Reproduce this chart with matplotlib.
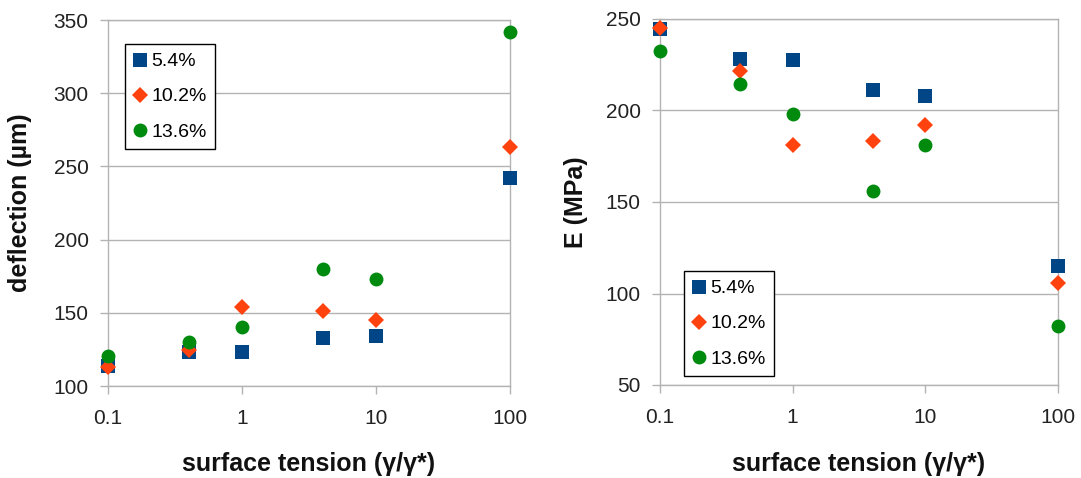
import matplotlib
matplotlib.use("Agg")
import matplotlib.pyplot as plt

plt.rcParams['font.family'] = ['Liberation Sans', 'DejaVu Sans']

# surface tension ratio (gamma / gamma*)
tension = [0.1, 0.4, 1, 4, 10, 100]
series_labels = ["5.4%", "10.2%", "13.6%"]

# deflection (um) per concentration
deflection_54 = [114, 123, 123, 133, 134, 242]
deflection_102 = [113, 124.5, 154, 151, 145, 263]
deflection_136 = [120.5, 130, 140.5, 180, 173, 342]

# modulus E (MPa) per concentration
modulus_54 = [244.5, 228, 227.5, 211, 208, 115]
modulus_102 = [245, 221.5, 181, 183.5, 192, 105.5]
modulus_136 = [232.5, 214.5, 198, 156, 181, 82]

colors = ["#004586", "#ff420e", "#008a0e"]
markers = ["s", "D", "o"]
msizes = [10, 8.3, 10]

fig = plt.figure(figsize=(10.81, 4.78), dpi=100)
W, H = 1081, 478


def make_axes(left, right, top, bottom):
    return fig.add_axes([left / W, 1 - bottom / H, (right - left) / W, (bottom - top) / H])


ax1 = make_axes(108, 510, 20, 386)
ax2 = make_axes(660, 1058, 19, 385)

grid_c = "#b3b3b3"


def style(ax, ylim, yticks, ylabel, ylab_x, xlab_y):
    ax.set_xscale("log")
    ax.set_xlim(0.1, 100)
    ax.set_ylim(*ylim)
    ax.set_xticks([0.1, 1, 10, 100])
    ax.set_xticklabels(["0.1", "1", "10", "100"])
    ax.xaxis.set_minor_locator(matplotlib.ticker.NullLocator())
    ax.set_yticks(yticks)
    ax.yaxis.grid(True, color=grid_c, linewidth=1)
    ax.set_axisbelow(True)
    for s in ax.spines.values():
        s.set_color(grid_c)
        s.set_linewidth(1)
    ax.tick_params(axis="both", which="major", length=5.5, width=1, color=grid_c,
                   labelsize=15, labelcolor="#222222")
    ax.tick_params(axis="x", pad=11)
    ax.tick_params(axis="y", pad=8.5)
    ax.set_xlabel("surface tension (γ/γ*)", fontsize=18, fontweight="bold",
                  color="#111111")
    ax.set_ylabel(ylabel, fontsize=18, fontweight="bold", color="#111111")
    ax.yaxis.set_label_coords(ylab_x, 0.5)
    ax.xaxis.set_label_coords(0.5, xlab_y)


def draw(ax, data):
    for vals, c, m, ms, lab in zip(data, colors, markers, msizes, series_labels):
        ax.plot(tension, vals, linestyle="none", marker=m, markersize=ms,
                color=c, markeredgewidth=0, label=lab, clip_on=False, zorder=3)


draw(ax1, [deflection_54, deflection_102, deflection_136])
style(ax1, (100, 350), [100, 150, 200, 250, 300, 350], "deflection (µm)", -0.19, -0.181)

draw(ax2, [modulus_54, modulus_102, modulus_136])
style(ax2, (50, 250), [50, 100, 150, 200, 250], "E (MPa)", -0.18, -0.183)


def legend(ax, anchor):
    lg = ax.legend(loc="upper left", bbox_to_anchor=anchor, borderaxespad=0,
                   fontsize=14, frameon=True, fancybox=False, handlelength=0.6,
                   handletextpad=0.3, labelspacing=0.9, borderpad=0.45,
                   numpoints=1)
    fr = lg.get_frame()
    fr.set_edgecolor("black")
    fr.set_linewidth(1)
    fr.set_facecolor("white")
    fr.set_alpha(1)


legend(ax1, ((125 - 108) / 402, 1 - (44 - 20) / 366))
legend(ax2, ((684 - 660) / 398, 1 - (271 - 19) / 366))

fig.savefig("out.png", dpi=100)
